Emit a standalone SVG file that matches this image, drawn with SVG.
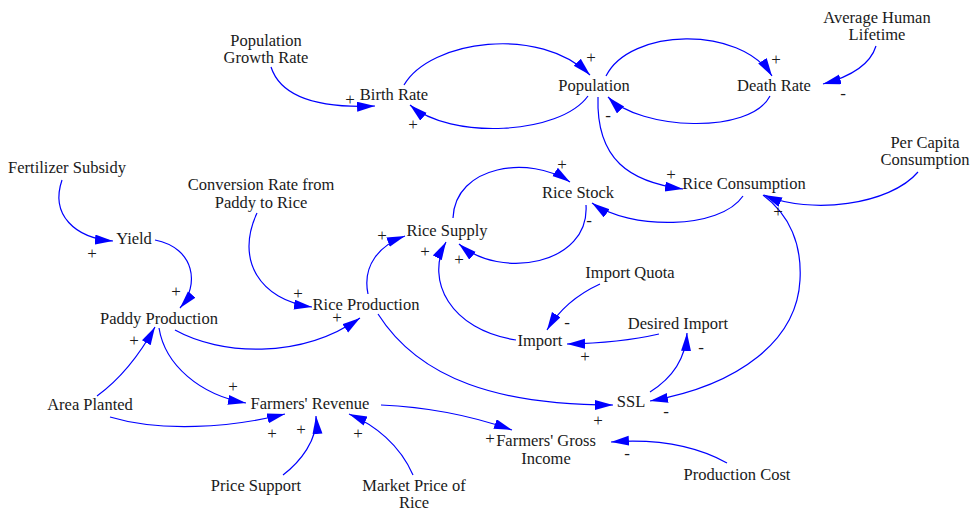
<svg xmlns="http://www.w3.org/2000/svg" width="975" height="512" viewBox="0 0 975 512">
<style>
  .n { font-family: "Liberation Serif", "Times New Roman", serif; font-size: 16.5px; fill: #1a1a1a; text-anchor: middle; }
  .p { font-family: "Liberation Serif", "Times New Roman", serif; font-size: 17px; fill: #1a1a1a; text-anchor: middle; }
  .l { fill: none; stroke: #0000ff; stroke-width: 1.2; marker-end: url(#ah); }
</style>
<defs>
  <marker id="ah" markerUnits="userSpaceOnUse" markerWidth="19" markerHeight="11" refX="18" refY="5" orient="auto">
    <path d="M0,0 L18,5 L0,10 z" fill="#0000ff"/>
  </marker>
</defs>
<rect width="975" height="512" fill="#ffffff"/>

<g id="connectors">
  <path class="l" d="M271,67 Q285,110 375,106"/>
  <path class="l" d="M404,85 C430,40 540,25 590,75"/>
  <path class="l" d="M588,96 C560,135 450,140 410,105"/>
  <path class="l" d="M606,76 C630,28 740,25 772,76"/>
  <path class="l" d="M770,96 C750,135 640,130 608,97"/>
  <path class="l" d="M876,46 Q868,72 823,84"/>
  <path class="l" d="M598,97 C596,160 630,182 683,189"/>
  <path class="l" d="M918,172 C890,205 810,215 764,195"/>
  <path class="l" d="M763,195 C790,215 802,245 800,280 C797,340 740,385 650,401"/>
  <path class="l" d="M743,196 C720,230 630,230 592,203"/>
  <path class="l" d="M586,205 C590,265 500,280 459,244"/>
  <path class="l" d="M453,218 C455,165 530,155 570,182"/>
  <path class="l" d="M368,294 C362,265 380,245 405,236"/>
  <path class="l" d="M516,340 C450,330 425,280 446,242"/>
  <path class="l" d="M600,284 Q565,300 547,330"/>
  <path class="l" d="M659,334 Q620,343 567,344"/>
  <path class="l" d="M650,392 Q685,370 687,333"/>
  <path class="l" d="M378,314 C420,380 500,405 613,405"/>
  <path class="l" d="M175,330 C220,355 300,360 360,318"/>
  <path class="l" d="M257,213 C235,260 260,300 312,307"/>
  <path class="l" d="M62,180 C50,215 75,238 113,241"/>
  <path class="l" d="M155,240 C195,248 200,285 180,308"/>
  <path class="l" d="M97,396 Q130,372 155,327"/>
  <path class="l" d="M159,328 C165,365 200,395 246,403"/>
  <path class="l" d="M110,417 C160,432 230,428 285,414"/>
  <path class="l" d="M283,475 C300,462 318,440 316,416"/>
  <path class="l" d="M413,475 C400,445 375,425 349,414"/>
  <path class="l" d="M381,405 Q450,408 512,430"/>
  <path class="l" d="M727,463 Q680,437 611,442"/>
</g>

<g id="polarities">
  <text class="p" x="350" y="105">+</text>
  <text class="p" x="413" y="130">+</text>
  <text class="p" x="591" y="63">+</text>
  <text class="p" x="776" y="65">+</text>
  <text class="p" x="608" y="121">-</text>
  <text class="p" x="843" y="99">-</text>
  <text class="p" x="671" y="180">+</text>
  <text class="p" x="562" y="170">+</text>
  <text class="p" x="589" y="226">-</text>
  <text class="p" x="778" y="217">+</text>
  <text class="p" x="382" y="241">+</text>
  <text class="p" x="425" y="257">+</text>
  <text class="p" x="459" y="265">+</text>
  <text class="p" x="567" y="328">-</text>
  <text class="p" x="585" y="362">+</text>
  <text class="p" x="701" y="353">-</text>
  <text class="p" x="598" y="426">+</text>
  <text class="p" x="666" y="417">-</text>
  <text class="p" x="337" y="323">+</text>
  <text class="p" x="298" y="299">+</text>
  <text class="p" x="92" y="259">+</text>
  <text class="p" x="176" y="297">+</text>
  <text class="p" x="134" y="346">+</text>
  <text class="p" x="233" y="392">+</text>
  <text class="p" x="272" y="439">+</text>
  <text class="p" x="301" y="435">+</text>
  <text class="p" x="358" y="439">+</text>
  <text class="p" x="490" y="444">+</text>
  <text class="p" x="627" y="459">-</text>
</g>

<g id="population-growth-rate"><text class="n" x="266" y="46">Population</text><text class="n" x="266" y="63">Growth Rate</text></g>
<g id="birth-rate"><text class="n" x="394" y="100">Birth Rate</text></g>
<g id="population"><text class="n" x="594" y="91">Population</text></g>
<g id="death-rate"><text class="n" x="774" y="91">Death Rate</text></g>
<g id="average-human-lifetime"><text class="n" x="877" y="23">Average Human</text><text class="n" x="877" y="40">Lifetime</text></g>
<g id="per-capita-consumption"><text class="n" x="925" y="148">Per Capita</text><text class="n" x="925" y="165">Consumption</text></g>
<g id="rice-consumption"><text class="n" x="744" y="189">Rice Consumption</text></g>
<g id="fertilizer-subsidy"><text class="n" x="67" y="173">Fertilizer Subsidy</text></g>
<g id="conversion-rate"><text class="n" x="261" y="190">Conversion Rate from</text><text class="n" x="261" y="208">Paddy to Rice</text></g>
<g id="yield"><text class="n" x="134" y="244">Yield</text></g>
<g id="paddy-production"><text class="n" x="159" y="324">Paddy Production</text></g>
<g id="rice-production"><text class="n" x="366" y="310">Rice Production</text></g>
<g id="rice-supply"><text class="n" x="447" y="236">Rice Supply</text></g>
<g id="rice-stock"><text class="n" x="578" y="198">Rice Stock</text></g>
<g id="import-quota"><text class="n" x="630" y="278">Import Quota</text></g>
<g id="import"><text class="n" x="540" y="346">Import</text></g>
<g id="desired-import"><text class="n" x="678" y="329">Desired Import</text></g>
<g id="ssl"><text class="n" x="631" y="407">SSL</text></g>
<g id="area-planted"><text class="n" x="90" y="410">Area Planted</text></g>
<g id="farmers-revenue"><text class="n" x="310" y="409">Farmers' Revenue</text></g>
<g id="price-support"><text class="n" x="256" y="491">Price Support</text></g>
<g id="market-price-of-rice"><text class="n" x="414" y="491">Market Price of</text><text class="n" x="414" y="508">Rice</text></g>
<g id="farmers-gross-income"><text class="n" x="546" y="446">Farmers' Gross</text><text class="n" x="546" y="464">Income</text></g>
<g id="production-cost"><text class="n" x="737" y="480">Production Cost</text></g>
</svg>
